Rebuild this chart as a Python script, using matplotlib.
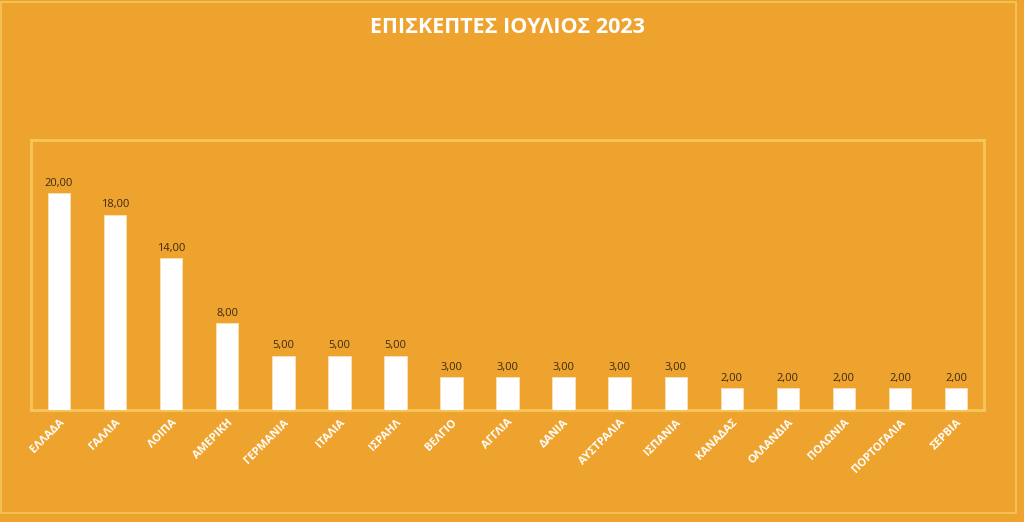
import matplotlib.pyplot as plt
from matplotlib.patches import Rectangle

countries = ["ΕΛΛΑΔΑ", "ΓΑΛΛΙΑ", "ΛΟΙΠΑ", "ΑΜΕΡΙΚΗ", "ΓΕΡΜΑΝΙΑ", "ΙΤΑΛΙΑ", "ΙΣΡΑΗΛ",
             "ΒΕΛΓΙΟ", "ΑΓΓΛΙΑ", "ΔΑΝΙΑ", "ΑΥΣΤΡΑΛΙΑ", "ΙΣΠΑΝΙΑ", "ΚΑΝΑΔΑΣ",
             "ΟΛΛΑΝΔΙΑ", "ΠΟΛΩΝΙΑ", "ΠΟΡΤΟΓΑΛΙΑ", "ΣΕΡΒΙΑ"]
visitors = [20, 18, 14, 8, 5, 5, 5, 3, 3, 3, 3, 3, 2, 2, 2, 2, 2]

bg = "#EFA32F"
frame = "#F5C65A"

plt.rcParams["font.family"] = ["Open Sans", "DejaVu Sans"]

fig = plt.figure(figsize=(10.24, 5.22), dpi=100, facecolor=bg)

# outer chart border
fig.patches.append(Rectangle((0.001, 0.017), 0.991, 0.98, transform=fig.transFigure,
                             fill=False, edgecolor=frame, linewidth=1.2))

ax = fig.add_axes([0.0303, 0.2146, 0.9307, 0.5172])
ax.set_facecolor(bg)
x = range(len(countries))
bars = ax.bar(x, visitors, width=0.4, color="white", edgecolor="#FBE3B5", linewidth=0.6, zorder=3)
ax.set_xlim(-0.5, len(countries) - 0.5)
ax.set_ylim(0, 24.9)

for b, v in zip(bars, visitors):
    ax.text(b.get_x() + b.get_width() / 2, v + 0.4, f"{v:.2f}".replace(".", ","),
            ha="center", va="bottom", fontsize=8, color="#3B2A12")

ax.set_yticks([])
ax.set_xticks(list(x))
ax.set_xticklabels(countries, rotation=45, ha="right", rotation_mode="anchor",
                   fontsize=8, fontweight="bold", color="white")
ax.tick_params(axis="x", length=0, pad=5)
for s in ax.spines.values():
    s.set_color(frame)
    s.set_linewidth(2)

fig.text(0.496, 0.947, "ΕΠΙΣΚΕΠΤΕΣ ΙΟΥΛΙΟΣ 2023", ha="center", va="center",
         fontsize=15.5, fontweight="bold", color="white")

fig.savefig("out.png", dpi=100, facecolor=bg)
